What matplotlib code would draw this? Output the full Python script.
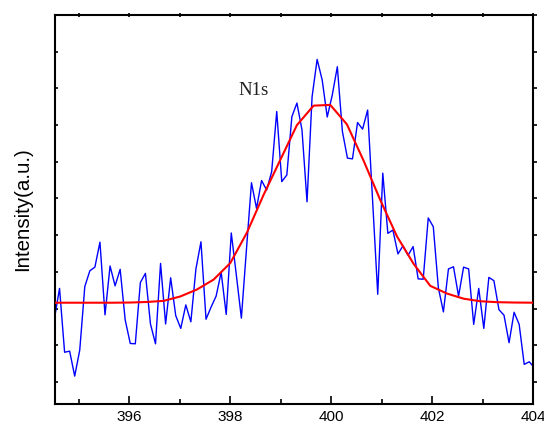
import numpy as np
import matplotlib
matplotlib.use("Agg")
import matplotlib.pyplot as plt
from matplotlib.ticker import MultipleLocator, NullFormatter

# ---- data ----
energy_start = 394.52
energy_step = 0.1
intensity = [1.74, 2.55, 0.81, 0.84, 0.16, 0.87, 2.60, 3.03, 3.13, 3.81,
             1.83, 3.16, 2.62, 3.07, 1.69, 1.05, 1.04, 2.71, 2.96, 1.58,
             1.04, 3.23, 1.58, 2.84, 1.81, 1.46, 2.10, 1.64, 3.08, 3.82,
             1.71, 2.04, 2.34, 2.99, 1.84, 4.06, 2.92, 1.74, 3.60, 5.43,
             4.73, 5.49, 5.23, 5.73, 7.37, 5.46, 5.64, 7.23, 7.60, 6.87,
             4.91, 7.77, 8.79, 8.23, 7.22, 7.82, 8.59, 6.83, 6.10, 6.08,
             7.07, 6.89, 7.41, 4.90, 2.39, 5.69, 4.05, 4.14, 3.49, 3.71,
             3.45, 3.69, 2.81, 2.80, 4.47, 4.23, 2.57, 1.91, 3.08, 3.14,
             2.34, 3.13, 3.08, 1.57, 2.55, 1.46, 2.85, 2.76, 1.97, 1.82,
             1.07, 1.90, 1.57, 0.48, 0.55, 0.39]

fit_energy = [394.52, 395.03, 395.36, 395.69, 396.02, 396.35, 396.68, 397.01,
              397.34, 397.67, 398.00, 398.33, 398.66, 398.99, 399.32, 399.65,
              399.98, 400.31, 400.64, 400.97, 401.30, 401.63, 401.96, 402.29,
              402.62, 402.95, 403.28, 403.61, 404.02]
fit_intensity = [2.16, 2.16, 2.16, 2.16, 2.165, 2.18, 2.21, 2.33,
                 2.52, 2.79, 3.24, 4.07, 5.10, 6.05, 7.00, 7.53,
                 7.55, 7.02, 6.03, 4.96, 3.97, 3.22, 2.62, 2.41,
                 2.27, 2.20, 2.175, 2.165, 2.16]

xticks = [396, 398, 400, 402, 404]
xtick_labels = ["396", "398", "400", "402", "404"]
peak_label = "N1s"
ylabel = "Intensity(a.u.)"

energy = energy_start + energy_step * np.arange(len(intensity))

fig = plt.figure(figsize=(5.44, 4.26), dpi=100)
ax = fig.add_axes([55 / 544, 22 / 426, (533.3 - 55) / 544, (404 - 15) / 426])

ax.plot(energy, intensity, color="#0000ff", lw=1.0, zorder=2)
ax.plot(fit_energy, fit_intensity, color="#ff0000", lw=1.5, zorder=3)

ax.set_xlim(394.53, 404.0)
ax.set_ylim(-0.6, 10.0)

ax.set_xticks(xticks)
ax.set_xticklabels(xtick_labels, fontfamily="Liberation Sans", fontsize=11)
ax.xaxis.set_minor_locator(MultipleLocator(1))
ax.set_yticks(np.arange(0, 11, 1))
ax.yaxis.set_major_formatter(NullFormatter())

ax.tick_params(axis="x", which="major", direction="in", length=6, width=1.2,
               pad=4, top=False)
ax.tick_params(axis="x", which="minor", direction="in", length=3.5, width=1.2,
               top=False)
ax.tick_params(axis="y", which="major", direction="in", length=2.5, width=1.2,
               right=False)

# top and right tick marks
sec_top = ax.secondary_xaxis("top")
sec_top.set_xticks(np.arange(395, 405, 1))
sec_top.xaxis.set_major_formatter(NullFormatter())
sec_top.tick_params(direction="inout", length=3, width=1.2)
sec_top.spines["top"].set_visible(False)

sec_right = ax.secondary_yaxis("right")
sec_right.set_yticks(np.arange(0, 11, 1))
sec_right.yaxis.set_major_formatter(NullFormatter())
sec_right.tick_params(direction="out", length=3, width=1.2)
sec_right.spines["right"].set_visible(False)

for s in ax.spines.values():
    s.set_linewidth(1.5)
    s.set_color("black")

ax.set_ylabel(ylabel, fontfamily="Liberation Sans", fontsize=14.8)
ax.yaxis.set_label_coords(-23 / 478.3, 0.5)

ax.text(398.17, 7.82, peak_label, fontfamily="Liberation Serif", fontsize=13.5,
        color="#222222", ha="left", va="baseline")

fig.savefig("out.png", dpi=100)
